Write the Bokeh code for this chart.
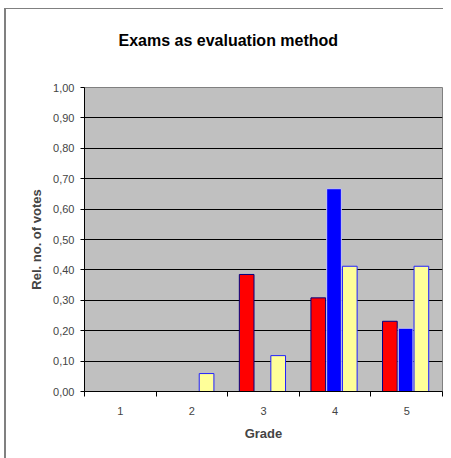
from bokeh.plotting import figure
from bokeh.models import Range1d, FixedTicker, ColumnDataSource, Title
from bokeh.embed import file_html
from bokeh.resources import INLINE

# ---- data ----
grades = ["1", "2", "3", "4", "5"]
series_red = [0.0, 0.0, 0.385, 0.308, 0.231]
series_blue = [0.0, 0.0, 0.0, 0.667, 0.208]
series_yellow = [0.0, 0.059, 0.118, 0.412, 0.412]
y_ticks = [0.0, 0.1, 0.2, 0.3, 0.4, 0.5, 0.6, 0.7, 0.8, 0.9, 1.0]
y_tick_labels = ["0,00", "0,10", "0,20", "0,30", "0,40", "0,50",
                 "0,60", "0,70", "0,80", "0,90", "1,00"]
title_text = "Exams as evaluation method"

FONT = "Liberation Sans"

p = figure(
    width=437, height=449,
    frame_width=358, frame_height=304,
    min_border_left=78, min_border_right=1,
    min_border_top=78, min_border_bottom=67,
    x_range=Range1d(0.5, len(grades) + 0.5),
    y_range=Range1d(0, 1),
    output_backend="svg", toolbar_location=None, title=None,
    background_fill_color="#C0C0C0", border_fill_color="white",
    outline_line_color="#808080", outline_line_width=1,
    styles={"border-left": "2px solid #808080", "border-top": "1px solid #808080",
            "margin-left": "4px", "margin-top": "8px"},
)

# blank spacer next to the frame, then the chart title above it
p.add_layout(Title(text=" ", text_font=FONT, text_font_size="10px", standoff=26), "above")
p.add_layout(Title(text=title_text, align="left", offset=34,
                   text_font=FONT, text_font_size="16px", text_font_style="bold",
                   text_color="black", standoff=0), "above")

series = [
    (series_red, -0.235, "#FF0000", "#000080"),
    (series_blue, -0.015, "#0000FF", "#C8C8F0"),
    (series_yellow, 0.205, "#FFFF99", "#2020FF"),
]
for vals, off, fill, line in series:
    xs, tops = [], []
    for i, v in enumerate(vals):
        if v > 0:
            xs.append(i + 1 + off)
            tops.append(v)
    src = ColumnDataSource(dict(x=xs, top=tops))
    p.vbar(x="x", top="top", bottom=0, width=0.205, source=src,
           fill_color=fill, line_color=line, line_width=1)

# grid
p.xgrid.visible = False
p.ygrid.ticker = FixedTicker(ticks=y_ticks[1:-1])
p.ygrid.grid_line_color = "black"
p.ygrid.grid_line_width = 1

# y axis
ya = p.yaxis[0]
ya.ticker = FixedTicker(ticks=y_ticks)
ya.major_label_overrides = {v: s for v, s in zip(y_ticks, y_tick_labels)}
ya.axis_label = "Rel. no. of votes"
ya.axis_label_text_font = FONT
ya.axis_label_text_font_size = "13px"
ya.axis_label_text_font_style = "bold"
ya.axis_label_standoff = 6
ya.major_label_text_font = FONT
ya.major_label_text_font_size = "11px"
ya.major_label_standoff = 6
ya.major_tick_out = 4
ya.major_tick_in = 0
ya.minor_tick_out = 0
ya.minor_tick_in = 0
ya.axis_line_color = "black"
ya.major_tick_line_color = "black"

# x axis: labels at category centres, ticks at boundaries
xa = p.xaxis[0]
centers = [i + 1 for i in range(len(grades))]
bounds = [i + 0.5 for i in range(len(grades) + 1)]
xa.ticker = FixedTicker(ticks=centers, minor_ticks=bounds)
xa.major_label_overrides = {c: g for c, g in zip(centers, grades)}
xa.axis_label = "Grade"
xa.axis_label_text_font = FONT
xa.axis_label_text_font_size = "13px"
xa.axis_label_text_font_style = "bold"
xa.axis_label_standoff = 8
xa.major_label_text_font = FONT
xa.major_label_text_font_size = "11px"
xa.major_label_standoff = 10
xa.major_tick_out = 0
xa.major_tick_in = 0
xa.minor_tick_out = 5
xa.minor_tick_in = 0
xa.minor_tick_line_color = "black"
xa.axis_line_color = "black"

open("out.html", "w").write(file_html(p, INLINE))
